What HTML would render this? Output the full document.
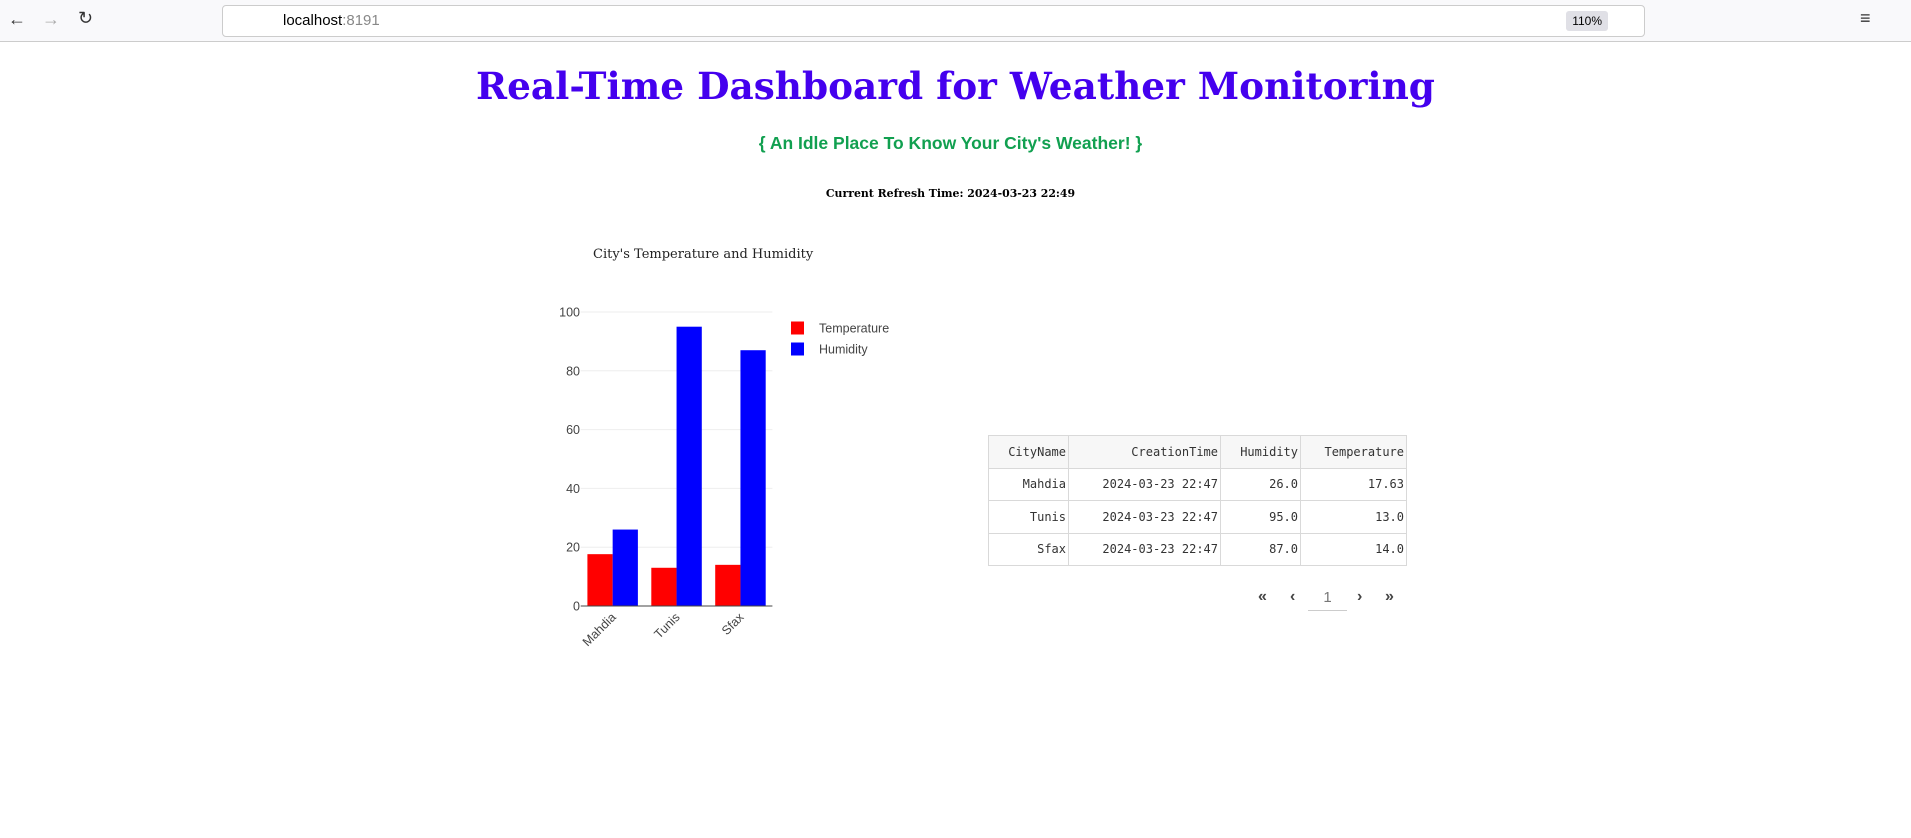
<!DOCTYPE html>
<html><head><meta charset="utf-8">
<style>
body{margin:0;width:1911px;height:838px;background:#fff;overflow:hidden;position:relative;font-family:"Liberation Sans",sans-serif}
.chrome{position:absolute;left:0;top:0;width:1911px;height:41px;background:#f9f9fb;border-bottom:1px solid #ccc}
.url{position:absolute;left:222px;top:5px;width:1421px;height:30px;background:#fff;border:1px solid #ccc;border-radius:4px;font-size:15px;line-height:30px}
.abs{position:absolute}
h1{position:absolute;left:0;width:1911px;top:64px;margin:0;text-align:center;font-family:"DejaVu Serif","Liberation Serif",serif;font-weight:bold;font-size:37.4px;color:#4400ee}
.sub{position:absolute;left:-5px;width:1911px;top:133px;text-align:center;font-weight:bold;font-size:17.5px;color:#11a050}
.ref{position:absolute;left:-5px;width:1911px;top:187px;text-align:center;font-family:"DejaVu Serif",serif;font-weight:bold;font-size:10.9px}
table{position:absolute;left:988px;top:435px;border-collapse:collapse;font-family:"DejaVu Sans Mono",monospace;font-size:12px;color:#333}
td,th{border:1px solid #d9d9d9;text-align:right;padding:0 2px 0 6px;height:31.5px;font-weight:normal}
th{background:#f7f7f7}
.pg{position:absolute;top:588px;font-size:16px;color:#444;font-weight:bold}
</style></head><body>
<div class="chrome">
 <span class="abs" style="left:8px;top:9px;font-size:18px;color:#333">←</span>
 <span class="abs" style="left:42px;top:9px;font-size:18px;color:#aaa">→</span>
 <span class="abs" style="left:78px;top:8px;font-size:18px;color:#333">↻</span>
 <div class="url"><span style="margin-left:60px">localhost</span><span style="color:#888">:8191</span>
  <span class="abs" style="right:36px;top:5px;height:20px;line-height:20px;background:#e0e0e6;border-radius:3px;font-size:12px;padding:0 6px">110%</span></div>
 <span class="abs" style="left:1860px;top:8px;font-size:18px;color:#333">≡</span>
</div>
<h1>Real-Time Dashboard for Weather Monitoring</h1>
<div class="sub">{ An Idle Place To Know Your City's Weather! }</div>
<div class="ref">Current Refresh Time: 2024-03-23 22:49</div>

<svg id="chart" class="abs" style="left:0;top:0" width="1000" height="700"></svg>

<table>
<tr><th style="width:71px">CityName</th><th style="width:143px">CreationTime</th><th style="width:71px">Humidity</th><th style="width:97px">Temperature</th></tr>
<tr><td>Mahdia</td><td>2024-03-23 22:47</td><td>26.0</td><td>17.63</td></tr>
<tr><td>Tunis</td><td>2024-03-23 22:47</td><td>95.0</td><td>13.0</td></tr>
<tr><td>Sfax</td><td>2024-03-23 22:47</td><td>87.0</td><td>14.0</td></tr>
</table>
<span class="pg" style="left:1258px">«</span>
<span class="pg" style="left:1290px">‹</span>
<div class="abs" style="left:1308px;top:586px;width:39px;height:24px;border-bottom:1px solid #ccc;text-align:center;font-size:15px;color:#777;line-height:24px">1</div>
<span class="pg" style="left:1357px">›</span>
<span class="pg" style="left:1385px">»</span>

<script>
const categories=["Mahdia","Tunis","Sfax"];
const temperature=[17.63,13.0,14.0];
const humidity=[26.0,95.0,87.0];
const yTicks=[0,20,40,60,80,100];
const seriesNames=["Temperature","Humidity"];
const svg=document.getElementById('chart');
const NS='http://www.w3.org/2000/svg';
const L=580.7,R=772.4,Y0=606,Y100=312;
const y=v=>Y0-(v/100)*(Y0-Y100);
const catW=(R-L)/categories.length;
const x=i=>L+catW*i+catW/2;
function mk(t,a){const e=document.createElementNS(NS,t);for(const k in a)e.setAttribute(k,a[k]);svg.appendChild(e);return e;}
let tt=mk('text',{x:593,y:258,'font-family':'DejaVu Serif,serif','font-size':13,fill:'#222'});tt.textContent="City's Temperature and Humidity";


yTicks.forEach(v=>{
 if(v>0){const g=mk('line',{x1:L,x2:R,y1:y(v),y2:y(v),stroke:'#eee'});
 
 }
 const t=mk('text',{x:580,y:y(v)+4.5,'text-anchor':'end','font-size':12.5,fill:'#444'});t.textContent=v;
 
 
});
const bw=catW*0.79/2;
categories.forEach((c,i)=>{
 const b1=mk('rect',{x:x(i)-bw,y:y(temperature[i]),width:bw,height:Y0-y(temperature[i]),fill:'#ff0000'});
 
 
 const b2=mk('rect',{x:x(i),y:y(humidity[i]),width:bw,height:Y0-y(humidity[i]),fill:'#0000ff'});
 
 
 const t=mk('text',{x:0,y:0,'text-anchor':'end','font-size':12.5,fill:'#444',transform:`translate(${x(i)+4},${Y0+12}) rotate(-45)`});t.textContent=c;
 
 
});
const ax=mk('line',{x1:L,x2:R,y1:Y0,y2:Y0,stroke:'#444'});


const cols=['#ff0000','#0000ff'];
seriesNames.forEach((n,i)=>{
 const cy=328+i*21;
 const r=mk('rect',{x:791,y:cy-6.5,width:13,height:13,fill:cols[i]});
 
 
 const t=mk('text',{x:819,y:cy+4.5,'font-size':12.5,fill:'#444'});t.textContent=n;
 
 
});
</script>
</body></html>
